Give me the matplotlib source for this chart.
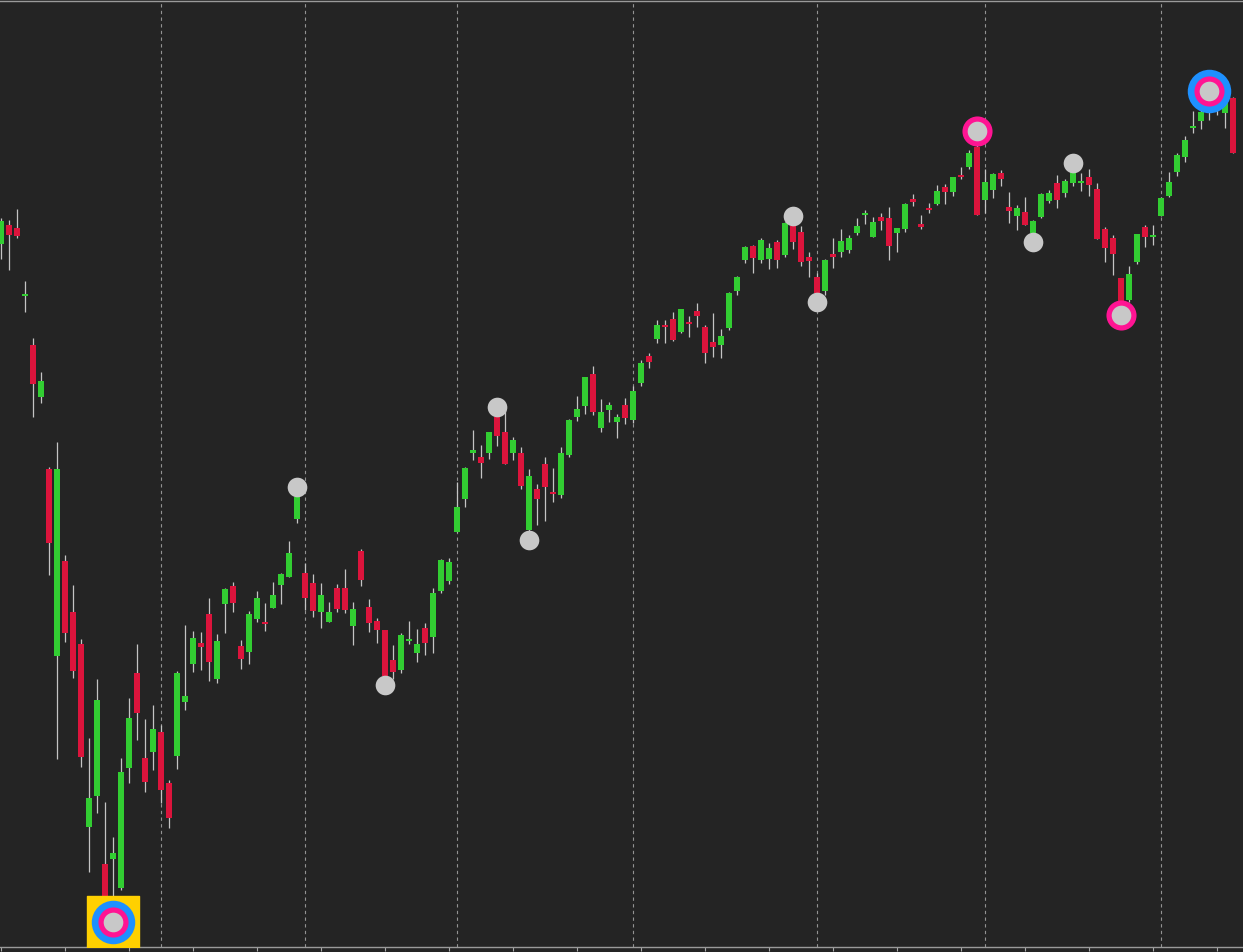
import matplotlib
matplotlib.use("Agg")
import matplotlib.pyplot as plt
import numpy as np

# daily OHLC (price units, oldest first)
opens = [75.6, 77.5, 77.2, 70.4, 65.5, 60.3, 53.1, 34.4, 43.9, 38.8,
         35.6, 17.3, 20.4, 13.6, 14.1, 11.2, 23.2, 32.7, 24.2, 24.8,
         26.8, 21.7, 24.4, 29.8, 33.6, 35.7, 38.6, 32.1, 39.6, 41.4,
         35.4, 34.8, 38.1, 37.8, 39.2, 41.5, 42.3, 48.1, 42.7, 41.7,
         38.8, 37.8, 41.2, 41.2, 37.4, 44.9, 39.3, 37.9, 37.0, 34.0,
         33.0, 35.9, 34.7, 37.2, 36.3, 40.9, 41.9, 46.8, 50.1, 54.7,
         54.3, 54.7, 58.3, 56.8, 54.7, 54.7, 47.0, 51.1, 53.6, 50.8,
         50.5, 54.5, 58.3, 59.4, 62.6, 57.2, 59.0, 57.8, 59.5, 58.0,
         61.7, 64.4, 66.1, 67.5, 68.1, 66.8, 67.8, 68.9, 67.3, 65.8,
         65.5, 67.2, 70.9, 74.0, 75.4, 74.0, 74.1, 75.8, 74.5, 77.4,
         76.8, 74.3, 72.3, 70.9, 74.6, 74.8, 75.0, 76.7, 78.5, 76.3,
         78.3, 78.2, 76.7, 77.1, 80.1, 77.6, 79.2, 79.6, 81.3, 80.8,
         82.5, 83.3, 85.3, 80.0, 81.0, 82.7, 79.3, 78.4, 78.8, 76.7,
         78.3, 79.9, 81.7, 80.7, 81.7, 81.7, 82.3, 81.1, 77.1, 76.2,
         72.2, 70.0, 73.8, 77.3, 76.3, 78.4, 80.4, 82.8, 84.3, 87.2,
         87.9, 88.8, 89.2, 88.7, 90.2]
highs = [78.2, 78.0, 79.1, 71.9, 66.2, 62.8, 53.3, 55.8, 44.5, 41.5,
         36.1, 26.2, 32.1, 19.8, 16.3, 24.2, 30.2, 35.6, 28.1, 29.5,
         27.5, 22.0, 32.9, 37.5, 36.9, 36.8, 40.2, 36.6, 41.2, 41.8,
         36.0, 38.9, 40.9, 39.7, 41.8, 42.7, 45.9, 51.3, 43.7, 42.6,
         41.7, 39.8, 41.6, 43.1, 39.8, 45.1, 40.1, 38.2, 37.0, 35.5,
         36.7, 37.9, 37.1, 37.7, 41.2, 44.1, 44.2, 51.8, 53.3, 57.0,
         55.5, 56.8, 59.3, 59.0, 56.3, 55.3, 53.1, 51.6, 54.3, 53.2,
         55.3, 58.1, 60.4, 62.3, 63.4, 60.1, 59.8, 58.6, 60.2, 61.4,
         64.0, 64.7, 68.0, 68.0, 68.8, 69.1, 68.4, 69.7, 67.5, 68.7,
         67.1, 70.8, 72.4, 75.4, 75.5, 76.2, 75.7, 76.0, 77.8, 78.4,
         77.4, 74.8, 72.7, 74.1, 76.2, 77.1, 76.5, 78.2, 79.0, 78.3,
         78.7, 79.3, 77.2, 79.7, 80.6, 78.5, 79.7, 81.5, 81.6, 82.3,
         83.3, 85.0, 86.9, 83.1, 82.7, 83.0, 80.8, 79.5, 80.3, 78.0,
         80.7, 81.0, 82.5, 82.1, 83.7, 82.7, 83.1, 81.7, 77.3, 76.5,
         72.2, 73.4, 76.6, 77.5, 77.5, 80.3, 82.8, 84.7, 86.4, 88.9,
         90.0, 90.9, 90.1, 90.5, 90.3]
lows = [74.1, 73.0, 76.2, 68.8, 58.3, 59.7, 42.5, 24.1, 35.8, 32.2,
        23.3, 12.8, 18.7, 9.4, 7.8, 11.0, 21.7, 26.0, 20.8, 23.0,
        19.7, 17.2, 23.1, 29.0, 32.8, 33.0, 31.9, 31.7, 36.7, 38.8,
        33.1, 33.6, 37.8, 36.9, 39.2, 39.6, 42.3, 47.7, 39.0, 38.3,
        37.2, 37.8, 38.8, 38.7, 35.5, 41.4, 36.8, 35.7, 31.5, 32.1,
        32.7, 35.6, 33.8, 34.5, 34.7, 40.7, 41.6, 46.8, 49.3, 54.0,
        52.2, 54.1, 55.4, 53.6, 54.0, 51.1, 46.0, 47.5, 47.9, 49.8,
        50.2, 54.3, 57.9, 58.6, 58.5, 56.8, 57.8, 56.2, 57.6, 57.7,
        61.4, 63.2, 65.7, 65.7, 65.9, 66.7, 66.3, 67.3, 63.7, 64.3,
        64.2, 67.0, 70.5, 73.7, 72.7, 73.7, 73.1, 73.2, 74.3, 75.1,
        73.4, 72.3, 69.8, 70.5, 73.2, 74.3, 74.7, 76.5, 77.6, 76.3,
        77.0, 74.0, 74.8, 76.8, 79.4, 77.1, 78.7, 79.5, 79.6, 80.4,
        82.1, 83.1, 78.5, 78.7, 80.2, 81.4, 77.7, 77.0, 77.5, 75.8,
        78.2, 79.7, 79.2, 80.3, 81.4, 80.9, 80.4, 76.1, 73.8, 72.5,
        68.5, 69.8, 73.6, 75.3, 75.5, 78.4, 80.3, 82.4, 83.8, 86.7,
        87.1, 88.0, 88.5, 87.2, 84.7]
closes = [77.9, 76.5, 76.4, 70.6, 61.6, 61.9, 45.7, 53.1, 36.7, 32.9,
          24.3, 20.2, 30.0, 10.0, 14.7, 22.8, 28.2, 28.7, 21.8, 27.1,
          21.0, 18.2, 32.7, 30.4, 36.2, 35.3, 33.8, 35.9, 41.1, 39.7,
          34.1, 38.6, 40.2, 37.6, 40.5, 42.6, 44.7, 50.3, 40.2, 38.9,
          40.5, 38.8, 39.1, 39.0, 39.1, 42.0, 37.7, 37.0, 32.4, 32.8,
          36.5, 36.1, 35.6, 35.7, 40.7, 44.0, 43.8, 49.3, 53.2, 55.0,
          53.7, 56.8, 56.4, 53.6, 56.0, 51.4, 52.4, 50.1, 51.3, 50.6,
          54.7, 58.0, 59.1, 62.3, 58.8, 58.8, 59.5, 58.3, 58.2, 60.9,
          63.7, 63.8, 67.5, 67.3, 66.0, 69.1, 67.6, 68.4, 64.7, 65.3,
          66.4, 70.7, 72.3, 75.3, 74.2, 76.0, 75.2, 74.0, 77.7, 75.8,
          73.8, 73.9, 70.7, 74.0, 74.3, 75.9, 76.2, 77.4, 78.6, 77.8,
          77.9, 75.4, 77.2, 79.6, 79.8, 77.3, 79.0, 80.9, 80.8, 82.3,
          82.3, 84.7, 78.5, 81.8, 82.6, 82.1, 78.9, 79.2, 77.5, 77.9,
          80.6, 80.7, 80.0, 81.9, 82.8, 81.8, 81.5, 76.1, 75.2, 74.6,
          69.8, 72.6, 76.6, 76.3, 76.5, 80.2, 81.8, 84.5, 86.0, 87.3,
          88.8, 90.0, 89.8, 90.3, 84.7]

# first session of each month
month_starts = [20, 38, 57, 79, 102, 123, 145]

# swing points flagged on the chart
minor_highs = [37, 62, 99, 134]
minor_lows = [48, 66, 102, 129]
major_high = [122]
major_low = [140]
extreme_high = [151]
extreme_low = [14]

bg = "#242424"
up_col = "#32cd32"
down_col = "#dc143c"
wick_col = "#c4c4c4"
dot_col = "#c8c8c8"
pink = "#ff1493"
blue = "#1e90ff"
gold = "#ffd000"

o = np.array(opens)
h = np.array(highs)
l = np.array(lows)
c = np.array(closes)
x = np.arange(len(o))
up = c >= o

fig = plt.figure(figsize=(12.43, 9.52), dpi=100, facecolor=bg)
ax = fig.add_axes([0, 5 / 952, 1, 946 / 952])
ax.set_facecolor(bg)

for m in month_starts:
    ax.axvline(m, color="#939393", lw=0.8, ls=(0, (3, 3)), zorder=1)

ax.vlines(x, l, h, color=wick_col, lw=0.9, zorder=2)
body_lo = np.minimum(o, c)
body_h = np.maximum(np.abs(c - o), 0.2)
ax.bar(x, body_h, bottom=body_lo, width=0.7,
       color=np.where(up, up_col, down_col), zorder=3, linewidth=0)

# markers
ax.scatter(extreme_low, l[extreme_low], marker="s", s=1400, color=gold, zorder=4)
for idx, vals in [(extreme_high, h), (extreme_low, l)]:
    ax.scatter(idx, vals[idx], s=980, color=blue, zorder=5, linewidths=0)
for idx, vals in [(major_high, h), (major_low, l), (extreme_high, h), (extreme_low, l)]:
    ax.scatter(idx, vals[idx], s=470, color=pink, zorder=6, linewidths=0)
for idx, vals in [(minor_highs, h), (minor_lows, l), (major_high, h), (major_low, l),
                  (extreme_high, h), (extreme_low, l)]:
    ax.scatter(idx, vals[idx], s=200, color=dot_col, zorder=7, linewidths=0)

ax.set_xlim(-0.125, 155.25)
ax.set_ylim(5.3, 99.9)
ax.set_xticks(range(0, 155, 8))
ax.tick_params(axis="x", direction="out", length=3, width=0.8, color="#aaaaaa",
               labelbottom=False)
ax.set_yticks([])
for side in ["left", "right"]:
    ax.spines[side].set_visible(False)
for side in ["top", "bottom"]:
    ax.spines[side].set_color("#9a9a9a")
    ax.spines[side].set_linewidth(1)

fig.savefig("out.png", dpi=100, facecolor=bg)
